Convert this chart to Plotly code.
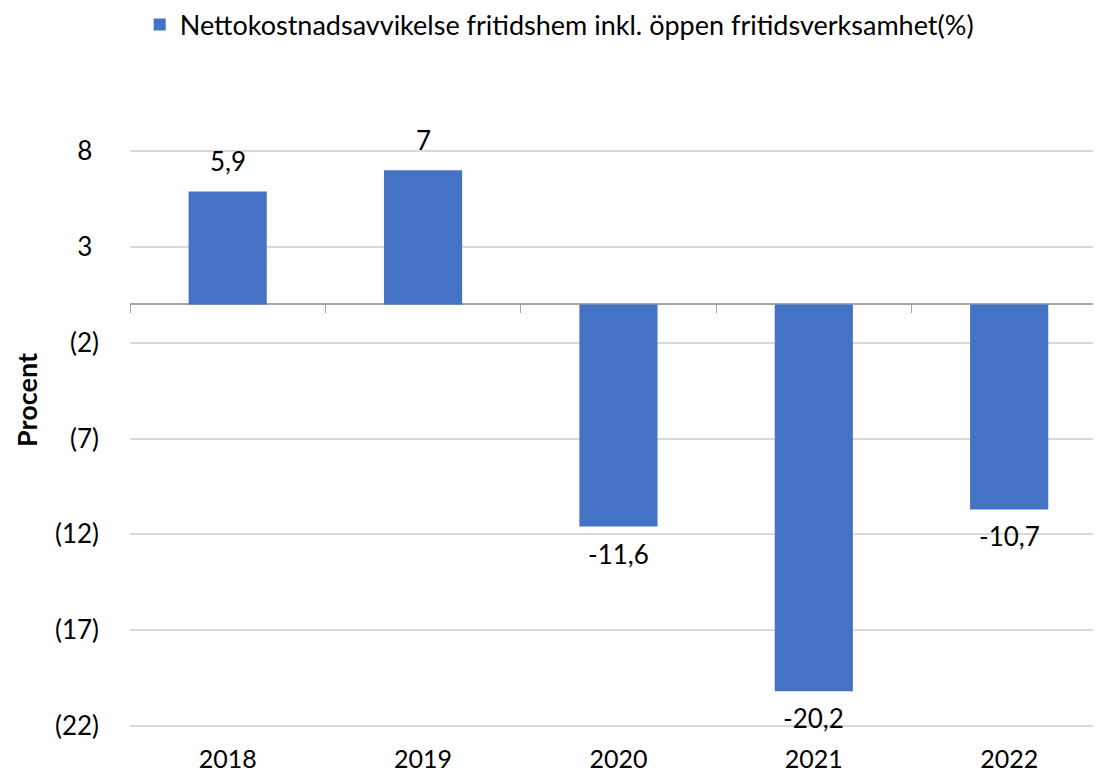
import plotly.graph_objects as go

years = ["2018", "2019", "2020", "2021", "2022"]
values = [5.9, 7.0, -11.6, -20.2, -10.7]
series_name = "Nettokostnadsavvikelse fritidshem inkl. öppen fritidsverksamhet(%)"
y_ticks = [8, 3, -2, -7, -12, -17, -22]
y_min, y_max = -22, 8

def fmt_tick(v):
    return f"({abs(v)})" if v < 0 else f"{v}\u00a0"

labels = [f"{v:g}".replace(".", ",") for v in values]

FONT = "Lato"
BLUE = "#4472C4"
FS = 26

fig = go.Figure()
fig.add_trace(go.Bar(
    x=years, y=values, name=series_name,
    marker=dict(color=BLUE, line=dict(width=0)),
    width=0.4, showlegend=True,
))
# helper trace to draw the category-boundary tick marks on the zero line
boundaries = [i - 0.5 for i in range(len(years))]
fig.add_trace(go.Scatter(x=[boundaries[0]], y=[0], xaxis="x2", mode="markers",
                         marker=dict(opacity=0), showlegend=False, hoverinfo="skip"))

annotations = [dict(x=i, y=v, text=t, xref="x", yref="y", showarrow=False,
                    xanchor="center", yanchor="middle", yshift=(30 if v >= 0 else -27),
                    font=dict(family=FONT, size=FS, color="#000000"))
               for i, (v, t) in enumerate(zip(values, labels))]
annotations.append(dict(text="<b>Procent</b>", textangle=-90, xref="paper", yref="paper",
                        x=-0.106, y=0.567, xanchor="center", yanchor="middle",
                        showarrow=False,
                        font=dict(family=FONT, size=27, color="#000000")))

pad = 0.06
x_max = len(years) - 1 + 0.47
fig.update_layout(
    width=1093, height=769,
    margin=dict(l=122, r=0, t=142, b=50, autoexpand=False),
    paper_bgcolor="white", plot_bgcolor="white",
    font=dict(family=FONT, size=FS, color="#000000"),
    showlegend=True,
    legend=dict(orientation="h", x=0.442, xanchor="center", y=1.2166, yanchor="middle",
                font=dict(family=FONT, size=27, color="#000000"), itemwidth=30),
    xaxis=dict(type="category", range=[-0.5, x_max], showgrid=False, showline=False,
               ticks="", tickfont=dict(size=25), ticklabelstandoff=15, zeroline=False,
               automargin=False),
    xaxis2=dict(type="linear", overlaying="x", anchor="free",
                position=(0 - y_min) / (y_max - y_min), range=[-0.5, x_max],
                tickvals=boundaries, ticks="outside", ticklen=8, tickcolor="#a6a6a6",
                showticklabels=False, showline=False, showgrid=False, zeroline=False,
                automargin=False),
    yaxis=dict(range=[y_min - pad, y_max + pad], tickvals=y_ticks,
               ticktext=[fmt_tick(v) for v in y_ticks],
               showgrid=True, gridcolor="#d9d9d9", gridwidth=1.5,
               zeroline=True, zerolinecolor="#a6a6a6", zerolinewidth=1.5,
               ticks="", ticklabelstandoff=30, tickfont=dict(size=FS), automargin=False),
    annotations=annotations,
)

fig.write_html("out.html")
